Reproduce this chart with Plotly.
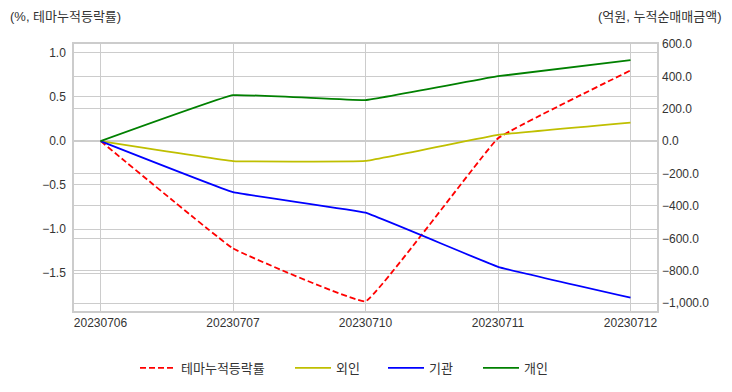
import plotly.graph_objects as go

dates = ["20230706", "20230707", "20230710", "20230711", "20230712"]
theme_ret = [0.0, -1.22, -1.82, 0.03, 0.80]
foreign = [0.0, -123.0, -122.0, 39.0, 115.0]
institution = [0.0, -315.0, -442.0, -776.0, -967.0]
individual = [0.0, 284.0, 253.0, 401.0, 500.0]

left_ticks = [1.0, 0.5, 0.0, -0.5, -1.0, -1.5]
right_ticks = [600, 400, 200, 0, -200, -400, -600, -800, -1000]

FONT = "Liberation Sans, Arial, Noto Sans CJK KR, sans-serif"
GRID = "#cccccc"
TXT = "#333333"
SM = 0.2

# page body has an 8px margin
OFF = 8
W, H = 732 - OFF, 392 - OFF
L, R, T, B = 74 - OFF, 75, 44 - OFF, 81
pw = W - L - R
ph = H - T - B


def px_x(sx):
    return (sx - (OFF + L)) / pw


def px_y(sy):
    return ((OFF + T + ph) - sy) / ph


fig = go.Figure()
fig.add_trace(go.Scatter(x=dates, y=theme_ret, name="테마누적등락률", mode="lines", showlegend=True,
                         line=dict(color="#ff0000", width=1.8, dash="6px,3px", shape="spline", smoothing=SM),
                         yaxis="y", legend="legend"))
fig.add_trace(go.Scatter(x=dates, y=foreign, name="외인", mode="lines", showlegend=True,
                         line=dict(color="#bfbf00", width=1.8, shape="spline", smoothing=SM),
                         yaxis="y2", legend="legend2"))
fig.add_trace(go.Scatter(x=dates, y=institution, name="기관", mode="lines", showlegend=True,
                         line=dict(color="#0000ff", width=1.8, shape="spline", smoothing=SM),
                         yaxis="y2", legend="legend3"))
fig.add_trace(go.Scatter(x=dates, y=individual, name="개인", mode="lines", showlegend=True,
                         line=dict(color="#008000", width=1.8, shape="spline", smoothing=SM),
                         yaxis="y2", legend="legend4"))

leg_common = dict(orientation="h", yanchor="middle", xanchor="left", itemwidth=36, visible=True,
                  font=dict(size=13, color=TXT), bgcolor="rgba(0,0,0,0)")
ly = px_y(368)
LS = 5

fig.update_layout(
    width=W, height=H, showlegend=True,
    margin=dict(l=L, r=R, t=T, b=B, autoexpand=False),
    paper_bgcolor="white", plot_bgcolor="white",
    font=dict(family=FONT, size=12, color=TXT),
    xaxis=dict(type="category", range=[-0.2, 4.2], showgrid=True, gridcolor=GRID, gridwidth=1,
               showline=True, linecolor=GRID, linewidth=1.5, mirror=True, ticks="",
               tickfont=dict(size=12, color=TXT), zeroline=False, automargin=False),
    yaxis=dict(range=[-1.93, 1.10], tickvals=left_ticks, tickformat=".1f",
               showgrid=True, gridcolor=GRID, gridwidth=1, zeroline=False,
               showline=True, linecolor=GRID, linewidth=1.5, mirror=True,
               tickfont=dict(size=12, color=TXT), ticklabelstandoff=4, automargin=False),
    yaxis2=dict(range=[-1049, 600], tickvals=right_ticks, tickformat=",.1f",
                overlaying="y", side="right", showgrid=True, gridcolor=GRID, gridwidth=1,
                zeroline=False, showline=False, automargin=False,
                tickfont=dict(size=12, color=TXT), ticklabelstandoff=4),
    legend=dict(x=px_x(140 - LS), y=ly, **leg_common),
    legend2=dict(x=px_x(295 - LS), y=ly, **leg_common),
    legend3=dict(x=px_x(388 - LS), y=ly, **leg_common),
    legend4=dict(x=px_x(483 - LS), y=ly, **leg_common),
    annotations=[
        dict(text="(%, 테마누적등락률)", x=px_x(8), y=px_y(17), xref="paper", yref="paper",
             showarrow=False, xanchor="left", yanchor="middle", font=dict(size=13, color=TXT)),
        dict(text="(억원, 누적순매매금액)", x=px_x(724), y=px_y(17), xref="paper", yref="paper",
             showarrow=False, xanchor="right", yanchor="middle", font=dict(size=13, color=TXT)),
    ],
)

fig.write_html("out.html")
